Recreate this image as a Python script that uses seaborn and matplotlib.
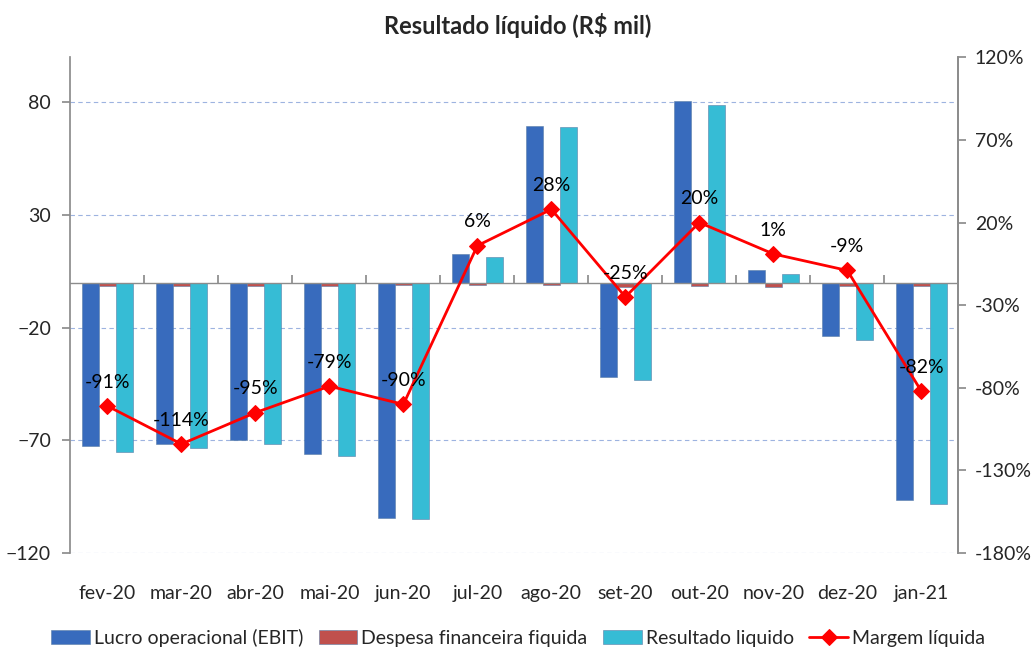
import numpy as np
import pandas as pd
import matplotlib
matplotlib.use("Agg")
import matplotlib.pyplot as plt
from matplotlib.ticker import FuncFormatter
import seaborn as sns

# dados (R$ mil e %)
meses = ["fev-20", "mar-20", "abr-20", "mai-20", "jun-20", "jul-20",
         "ago-20", "set-20", "out-20", "nov-20", "dez-20", "jan-21"]
lucro_operacional = [-72.5, -71.5, -70, -76, -104.5, 12.5, 69.5, -42, 80.5, 5.5, -23.5, -96.5]
despesa_financeira = [-1.5, -1.5, -1.5, -1.5, -1.0, -1.0, -1.0, -2.0, -1.5, -2.0, -1.5, -1.5]
resultado_liquido = [-75, -73.5, -71.5, -77, -105, 11.5, 69, -43, 79, 4, -25.5, -98]
margem_liquida = [-91, -114, -95, -79, -90, 6, 28, -25, 20, 1, -9, -82]

series = ["Lucro operacional (EBIT)", "Despesa financeira fiquida", "Resultado liquido"]
cores = ["#386bbd", "#c0504d", "#36bcd5"]

df = pd.DataFrame({
    "mes": meses * 3,
    "valor": lucro_operacional + despesa_financeira + resultado_liquido,
    "serie": [s for s in series for _ in meses],
})
df_margem = pd.DataFrame({"pos": np.arange(len(meses)), "margem": margem_liquida})

sns.set_theme(style="white")
plt.rcParams["font.family"] = ["Lato", "DejaVu Sans"]

fig, ax = plt.subplots(figsize=(10.36, 6.5), dpi=100)
fig.subplots_adjust(left=0.068, right=0.925, top=0.912, bottom=0.149)

sns.barplot(data=df, x="mes", y="valor", hue="serie", hue_order=series,
            palette=cores, saturation=1, width=0.69, ax=ax, edgecolor="#5a7ea8",
            linewidth=0.4, legend=True)

ax.set_ylim(-120, 100)
ax.set_yticks([-120, -70, -20, 30, 80])
ax.set_xlim(-0.5, len(meses) - 0.5)
ax.set_xlabel("")
ax.set_ylabel("")
ax.yaxis.grid(True, linestyle=(0, (4, 3)), color="#9db3e0", linewidth=0.8)
ax.set_axisbelow(True)
for s in ["top", "bottom"]:
    ax.spines[s].set_visible(False)
ax.spines["left"].set_color("#8c8c8c")
ax.spines["right"].set_color("#8c8c8c")
ax.tick_params(axis="y", left=True, length=6, color="#8c8c8c", labelsize=14, pad=8)
ax.tick_params(axis="x", bottom=False, labelsize=14, pad=17)
ax.axhline(0, color="#8c8c8c", linewidth=1, zorder=1)

# eixo de categorias na linha do zero
sec = ax.secondary_xaxis(120 / 220)
sec.set_xticks(np.arange(len(meses) - 1) + 0.5)
sec.tick_params(axis="x", direction="out", length=6, color="#8c8c8c", labelbottom=False, labeltop=False)
sec.spines["bottom"].set_visible(False)
sec.spines["top"].set_visible(False)

ax2 = ax.twinx()
sns.lineplot(data=df_margem, x="pos", y="margem", ax=ax2, color="#ff0000",
             linewidth=2, marker="D", markersize=8, markeredgecolor="#ff0000",
             label="Margem líquida", legend=False)
ax2.set_ylim(-180, 120)
ax2.set_yticks(np.arange(-180, 121, 50))
ax2.yaxis.set_major_formatter(FuncFormatter(lambda v, p: f"{v:.0f}%"))
ax2.set_ylabel("")
ax2.tick_params(axis="y", right=True, length=6, color="#8c8c8c", labelsize=14, pad=6)
for s in ["top", "bottom", "left"]:
    ax2.spines[s].set_visible(False)
ax2.spines["right"].set_color("#8c8c8c")
ax2.grid(False)

for i, m in enumerate(margem_liquida):
    ax2.annotate(f"{m}%", (i, m), xytext=(0, 11), textcoords="offset points",
                 ha="center", va="bottom", fontsize=14, color="black")

h1, l1 = ax.get_legend_handles_labels()
h2, l2 = ax2.get_legend_handles_labels()
ax.get_legend().remove()
fig.legend(h1 + h2, l1 + l2, loc="lower center", ncol=4, frameon=False,
           fontsize=14, bbox_to_anchor=(0.5, -0.022), handlelength=2.0,
           handletextpad=0.2, columnspacing=0.8)

fig.suptitle("Resultado líquido (R$ mil)", fontsize=17, fontweight="bold", y=0.98)

fig.savefig("out.png", dpi=100)
